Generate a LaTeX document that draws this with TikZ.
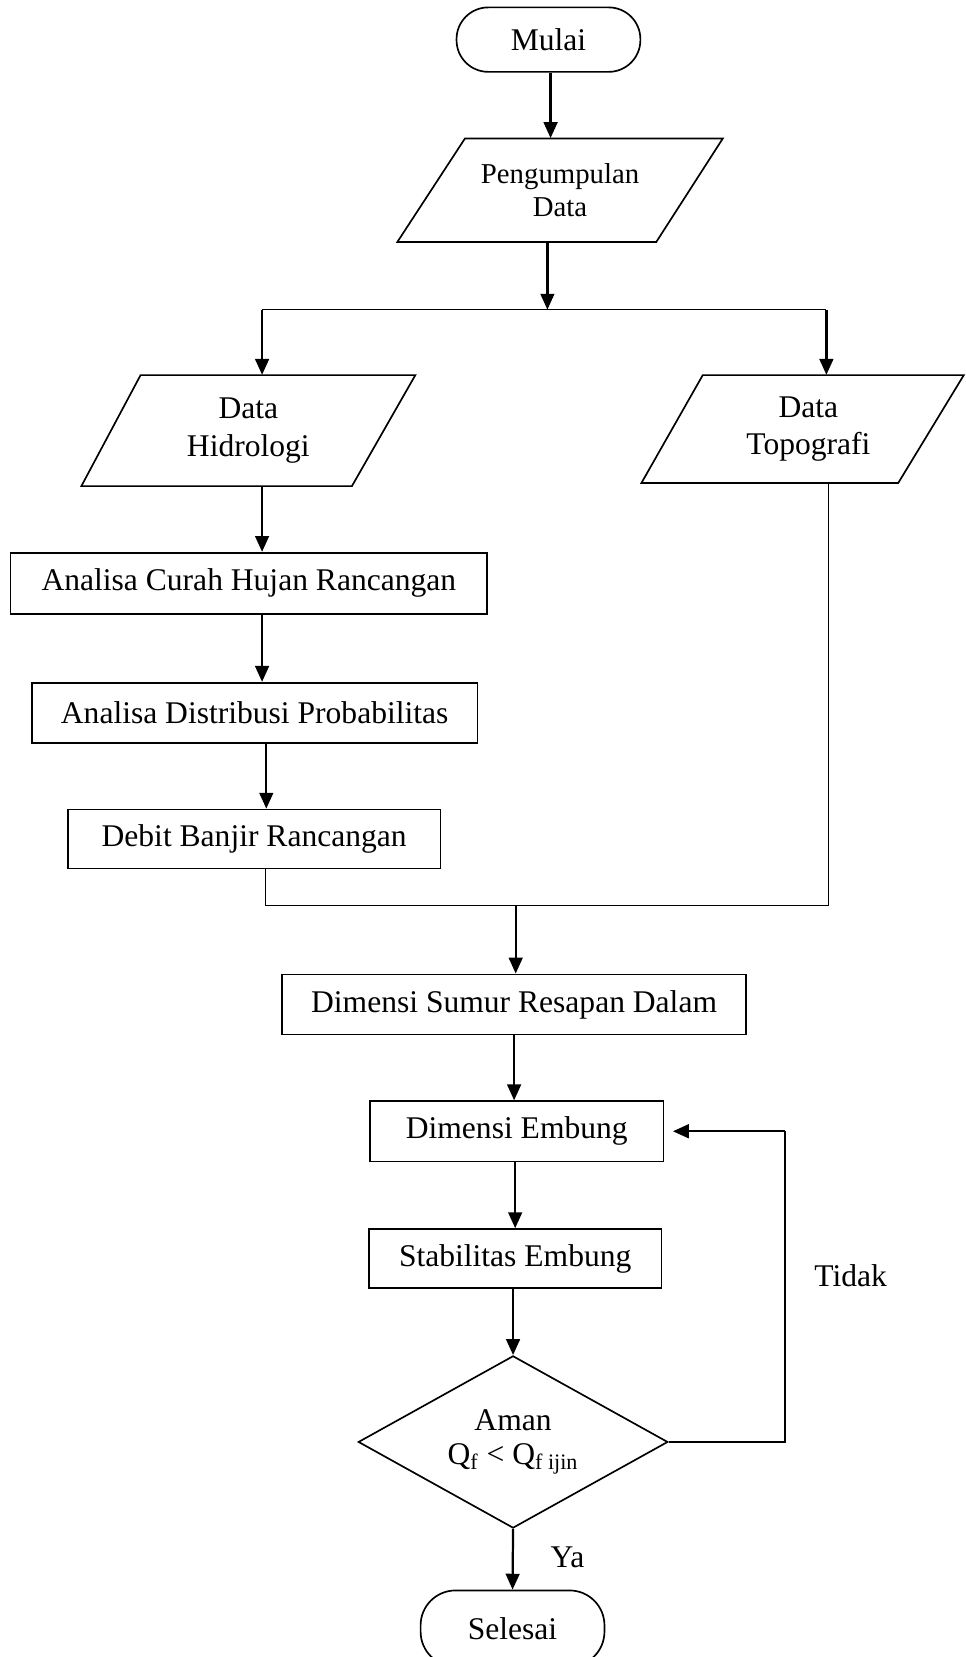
\documentclass[tikz,border=0pt]{standalone}
\usepackage{fontspec}
\setmainfont{Liberation Serif}
\usetikzlibrary{shapes.geometric,arrows.meta}
\tikzset{
  base/.style={font=\fontsize{17}{20.4}\selectfont, inner sep=0pt, align=center},
  procbox/.style={base, draw, line width=0.9pt, rectangle},
  termbox/.style={base, draw, line width=0.9pt, rectangle, rounded corners=0.6cm},
  iobox/.style={base},
  decbox/.style={base, draw, line width=0.9pt, diamond, aspect=1.8},
  shapeline/.style={line width=0.9pt, line join=miter},
  arr/.style={line width=1.2pt, -{Triangle[length=0.3cm,width=0.26cm]}},
  thinline/.style={line width=0.8pt},
  lbl/.style={base}
}
\begin{document}
\begin{tikzpicture}[x=0.02cm,y=-0.02cm]
\useasboundingbox (0,0) rectangle (914,1568);

% terminals and boxes
\node[termbox, minimum width=3.48cm, minimum height=1.22cm] (mulai) at (519,37.5) {Mulai};

\node[iobox, minimum width=4.4cm, minimum height=1.96cm, font=\fontsize{15.5}{17.6}\selectfont] (peng) at (530,180) {Pengumpulan\\Data};
\draw[shapeline] (440,131) -- (684,131) -- (621,229) -- (376,229) -- cycle;

\node[iobox, minimum width=4.4cm, minimum height=2.1cm] (hidro) at (235,407.5) {Data\\Hidrologi};
\draw[shapeline] (133,355) -- (393,355) -- (333,460) -- (77,460) -- cycle;

\node[iobox, minimum width=4.4cm, minimum height=2.04cm] (topo) at (765,406) {Data\\Topografi};
\draw[shapeline] (665,355) -- (912,355) -- (850,457) -- (607,457) -- cycle;

\node[procbox, minimum width=9.02cm, minimum height=1.16cm] (curah) at (235.5,552) {Analisa Curah Hujan Rancangan};
\node[procbox, minimum width=8.44cm, minimum height=1.14cm] (dist) at (241,674.5) {Analisa Distribusi Probabilitas};
\node[procbox, minimum width=7.06cm, minimum height=1.12cm] (debit) at (240.5,794) {Debit Banjir Rancangan};
\node[procbox, minimum width=8.78cm, minimum height=1.14cm] (sumur) at (486.5,950.5) {Dimensi Sumur Resapan Dalam};
\node[procbox, minimum width=5.56cm, minimum height=1.14cm] (dimemb) at (489,1070.5) {Dimensi Embung};
\node[procbox, minimum width=5.54cm, minimum height=1.12cm] (stab) at (487.5,1191) {Stabilitas Embung};
\node[decbox, minimum width=5.86cm, minimum height=3.26cm] (dec) at (485.5,1364.5) {Aman\\[-2pt]Q\textsubscript{f} {<} Q\textsubscript{f ijin}};
\node[termbox, minimum width=3.48cm, minimum height=1.44cm, rounded corners=0.66cm] (selesai) at (485,1541) {Selesai};

% labels
\node[lbl] (tidak) at (805,1207) {Tidak};
\node[lbl] (ya) at (537,1474) {Ya};

% coordinates
\coordinate (split) at (518,293);
\coordinate (sl) at (248,293);
\coordinate (sr) at (782,293);
\coordinate (c2) at (252,703);
\coordinate (ml) at (251,857);
\coordinate (m) at (488,857);
\coordinate (mr) at (784,857);
\coordinate (fb) at (743,1365);

% connectors
\draw[arr] (mulai.south -| 521,0) -- (521,0 |- peng.north);
\draw[arr] (peng.south -| split) -- (split);
\draw[thinline] (sl) -- (sr);
\draw[arr] (sl) -- (sl |- hidro.north);
\draw[arr] (sr) -- (sr |- topo.north);
\draw[arr] (sl |- hidro.south) -- (sl |- curah.north);
\draw[arr] (sl |- curah.south) -- (sl |- dist.north);
\draw[arr] (c2) -- (c2 |- debit.north);
\draw[thinline] (ml |- debit.south) -- (ml) -- (mr) -- (mr |- topo.south);
\draw[arr] (m) -- (m |- sumur.north);
\draw[arr] (sumur.south) -- (sumur.south |- dimemb.north);
\draw[arr] (stab.north |- dimemb.south) -- (stab.north);
\draw[arr] (dec.north |- stab.south) -- (dec.north);
\draw[arr] (dec.south) -- (selesai.north);
\draw[thinline] (dec.east) -- (fb |- dec.east) -- (fb |- dimemb.east);
\draw[arr] (fb |- dimemb.east) -- ([xshift=0.16cm]dimemb.east);
\end{tikzpicture}
\end{document}
